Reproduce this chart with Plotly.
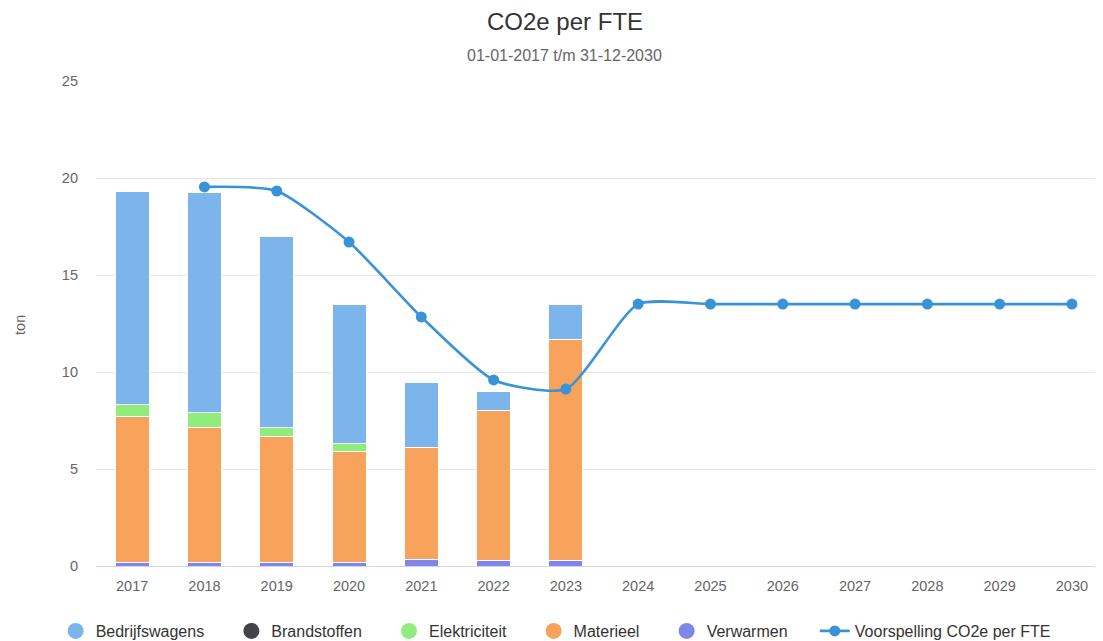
import plotly.graph_objects as go

years = [str(y) for y in range(2017, 2031)]
bar_years = years[:7]

verwarmen = [0.20, 0.20, 0.20, 0.20, 0.36, 0.28, 0.28]
materieel = [7.53, 6.96, 6.45, 5.68, 5.77, 7.76, 11.42]
brandstoffen = [0, 0, 0, 0, 0, 0, 0]
elektriciteit = [0.57, 0.73, 0.51, 0.46, 0, 0, 0]
bedrijfswagens = [10.98, 11.34, 9.80, 7.16, 3.35, 0.98, 1.80]

forecast_years = years[1:]
forecast = [19.54, 19.33, 16.70, 12.84, 9.59, 9.12, 13.50, 13.50, 13.50, 13.50, 13.50, 13.50, 13.50]

series = [
    ("Verwarmen", verwarmen, "#8085e9"),
    ("Materieel", materieel, "#f7a35c"),
    ("Elektriciteit", elektriciteit, "#90ed7d"),
    ("Brandstoffen", brandstoffen, "#434348"),
    ("Bedrijfswagens", bedrijfswagens, "#7cb5ec"),
]
legend_order = ["Bedrijfswagens", "Brandstoffen", "Elektriciteit", "Materieel", "Verwarmen"]
colors = {n: c for n, _, c in series}
PAD = "\u00a0" * 5

fig = go.Figure()
for name, vals, color in series:
    fig.add_trace(go.Bar(
        x=bar_years, y=vals, name=name, marker_color=color,
        marker_line=dict(color="white", width=1), showlegend=False,
        hovertemplate="%{x}<br>" + name + ": %{y:.2f} ton<extra></extra>",
    ))

for i, name in enumerate(legend_order):
    fig.add_trace(go.Scatter(
        x=[None], y=[None], mode="markers", name=name + PAD,
        marker=dict(symbol="circle", size=16, color=colors[name]),
        legendrank=i + 1,
    ))

fig.add_trace(go.Scatter(
    x=forecast_years, y=forecast, name="Voorspelling CO2e per FTE",
    mode="lines+markers", line=dict(color="#3a93d6", width=2.6, shape="spline", smoothing=0.6),
    marker=dict(size=11, color="#3a93d6"), legendrank=6,
))

fig.add_annotation(
    text="01-01-2017 t/m 31-12-2030", xref="paper", yref="paper",
    x=0.4657, y=1.0536, xanchor="center", yanchor="middle", showarrow=False,
    font=dict(size=16, color="#666666"),
)
fig.add_annotation(
    text="ton", xref="paper", yref="paper", textangle=-90,
    x=-0.0755, y=0.497, xanchor="center", yanchor="middle", showarrow=False,
    font=dict(size=14.5, color="#666666"),
)

fig.update_layout(
    width=1095, height=633,
    barmode="stack", bargap=0.53,
    plot_bgcolor="white", paper_bgcolor="white",
    font=dict(family="Liberation Sans, Arial, sans-serif", color="#666666", size=14),
    title=dict(
        text="CO2e per FTE",
        x=0.5087, xanchor="center", y=0.9779, yanchor="middle",
        font=dict(size=24, color="#333333"),
    ),
    margin=dict(l=88, r=0, t=73, b=75, autoexpand=False),
    xaxis=dict(
        type="category", categoryorder="array", categoryarray=years,
        range=[-0.5, 13.43], showgrid=False, showline=True, linecolor="#ccd6eb", linewidth=1,
        ticks="", tickfont=dict(size=14.5, color="#666666"), ticklabelstandoff=7,
    ),
    yaxis=dict(
        range=[0, 25], dtick=5, showgrid=True, gridcolor="#e6e6e6", zeroline=False,
        tickfont=dict(size=14.5, color="#666666"), ticklabelstandoff=17,
    ),
    legend=dict(
        orientation="h", xref="container", yref="container",
        x=0.0435, xanchor="left", y=0.0158, yanchor="middle",
        font=dict(size=16, color="#333333"), itemsizing="trace",
        traceorder="normal",
    ),
    hovermode="closest",
)

fig.write_html("out.html")
